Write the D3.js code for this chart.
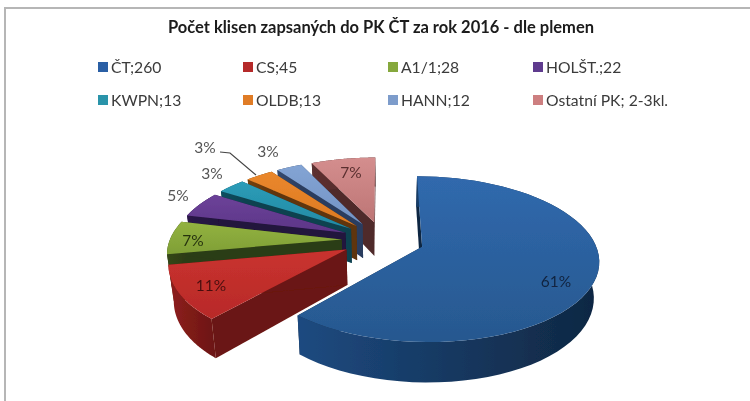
<!DOCTYPE html>
<html><head><meta charset="utf-8">
<script src="https://cdn.jsdelivr.net/npm/d3@7"></script>
<style>html,body{margin:0;padding:0;background:#fff}svg{display:block}text{font-family:Lato,"Open Sans",sans-serif}</style>
</head><body><div id="c"></div>
<script>
const title = "Počet klisen zapsaných do PK ČT za rok 2016 - dle plemen";
const legendLabels = ["ČT;260","CS;45","A1/1;28","HOLŠT.;22","KWPN;13","OLDB;13","HANN;12","Ostatní PK; 2-3kl."];
const values = [260,45,28,22,13,13,12,30];
const faceTop = ["#3069ad","#c9322f","#93b240","#6c4299","#2b9cb8","#ea872c","#83a4d4","#d48e8e"];
const faceBottom = ["#27588f","#b82a28","#7f9f36","#5c3587","#238aa3","#dd7a22","#7393c4","#bd7575"];
const wallLeft = ["#1d4a80","#8f201d","#35471a","#2a1749","#0e4f60","#74400f","#33496f","#5d3030"];
const wallRight = ["#0f2742","#6b1512","#2c3c14","#22123c","#0c4250","#5f340d","#2b3d5e","#502929"];
const swatches = ["#2a5fa5","#b52a2c","#86a83c","#5e3a8e","#2a94aa","#e07c28","#7d9ccb","#cd7f80"];

const width = 750, height = 401;
const legendX = [98,243,388,533], legendY = [67,100];
const labelPos = [[556,282],[211,286],[193,241],[178,196],[212,174],[205,148],[268,152],[351,173]];
const labelInk = ["#12233f","#4a1010","#26330f","#555","#555","#555","#555","#5a2f2f"];

const svg = d3.select("#c").append("svg").attr("width",width).attr("height",height);
const defs = svg.append("defs");
defs.append("filter").attr("id","soft").attr("x","-5%").attr("y","-5%").attr("width","110%").attr("height","110%")
  .append("feGaussianBlur").attr("stdDeviation",0.7);
defs.append("filter").attr("id","softT").attr("x","-5%").attr("y","-20%").attr("width","110%").attr("height","140%")
  .append("feGaussianBlur").attr("stdDeviation",0.35);

// frame
const frame = d3.path(); frame.moveTo(5,height); frame.lineTo(5,8); frame.lineTo(width,8);
svg.append("path").attr("d",frame.toString()).attr("fill","none").attr("stroke","#b6b6b6").attr("stroke-width",2);

svg.append("text").attr("x",381).attr("y",33).attr("text-anchor","middle")
  .attr("font-size",16.5).attr("font-weight",700).attr("fill","#1a1a1a").attr("filter","url(#softT)").text(title);

// legend
const leg = svg.append("g").attr("filter","url(#softT)");
legendLabels.forEach((t,i)=>{
  const x = legendX[i%4], y = legendY[Math.floor(i/4)];
  leg.append("rect").attr("x",x).attr("y",y-5).attr("width",10).attr("height",10).attr("fill",swatches[i]);
  leg.append("text").attr("x",x+13).attr("y",y+6).attr("font-size",15.7).attr("fill","#3a3a3a").text(t);
});

// 3D pie: radial wedge geometry from d3.pie, projected with a simple perspective
const cx=383, cy=240, Rx=172, Ry=79, k=0.148, explode=0.24;
const arcs = d3.pie().sort(null).startAngle(0).endAngle(2*Math.PI).value(d=>d)(values);
const line = d3.line();
function proj(theta,r,mid){
  const u=r*Math.sin(theta)+explode*Math.sin(mid), v=-r*Math.cos(theta)-explode*Math.cos(mid);
  const w=1/(1-k*v);
  return [cx+Rx*u*w, cy+Ry*v*w, v];
}
function drop(p){ return [cx+(p[0]-cx)*0.975, p[1]+35+5*p[2]]; }
function top2(p){ return [p[0],p[1]]; }

const pie = svg.append("g").attr("filter","url(#soft)");
[...arcs.keys()].forEach(i=>{
  const grad = defs.append("linearGradient").attr("id","w"+i);
  grad.append("stop").attr("offset",0).attr("stop-color",wallLeft[i]);
  grad.append("stop").attr("offset",1).attr("stop-color",wallRight[i]);
  const gf = defs.append("linearGradient").attr("id","f"+i).attr("x2",0).attr("y2",1);
  gf.append("stop").attr("offset",0).attr("stop-color",faceTop[i]);
  gf.append("stop").attr("offset",1).attr("stop-color",faceBottom[i]);
});
// painter's order: back slices first, the big slice last
[7,6,5,4,3,2,1,0].forEach(i=>{
  const a=arcs[i], mid=(a.startAngle+a.endAngle)/2;
  const ths=d3.range(0,61).map(j=>a.startAngle+(a.endAngle-a.startAngle)*j/60);
  const rim=ths.map(t=>proj(t,1,mid));
  const apex=proj(0,0,mid);
  const g=pie.append("g");
  // radial walls
  g.append("path").attr("d",line([top2(apex),top2(rim[0]),drop(rim[0]),drop(apex)])+"Z").attr("fill",wallRight[i]);
  g.append("path").attr("d",line([top2(apex),top2(rim[60]),drop(rim[60]),drop(apex)])+"Z").attr("fill",wallRight[i]);
  // outer wall
  g.append("path").attr("d",line(rim.map(top2).concat(rim.slice().reverse().map(drop)))+"Z").attr("fill",`url(#w${i})`);
  // top face
  g.append("path").attr("d",line([top2(apex)].concat(rim.map(top2)))+"Z").attr("fill",`url(#f${i})`);
});

// percentage labels
const total=d3.sum(values), fmt=d3.format(".0%");
const lab=svg.append("g").attr("filter","url(#softT)");
values.forEach((v,i)=>{
  lab.append("text").attr("x",labelPos[i][0]).attr("y",labelPos[i][1]+5).attr("text-anchor","middle")
    .attr("font-size",15.5).attr("fill",labelInk[i]).text(fmt(v/total));
});
const leader=d3.path(); leader.moveTo(220,152); leader.lineTo(230,153); leader.lineTo(256,175);
svg.append("path").attr("d",leader.toString()).attr("fill","none").attr("stroke","#444").attr("stroke-width",1.2);
</script></body></html>
